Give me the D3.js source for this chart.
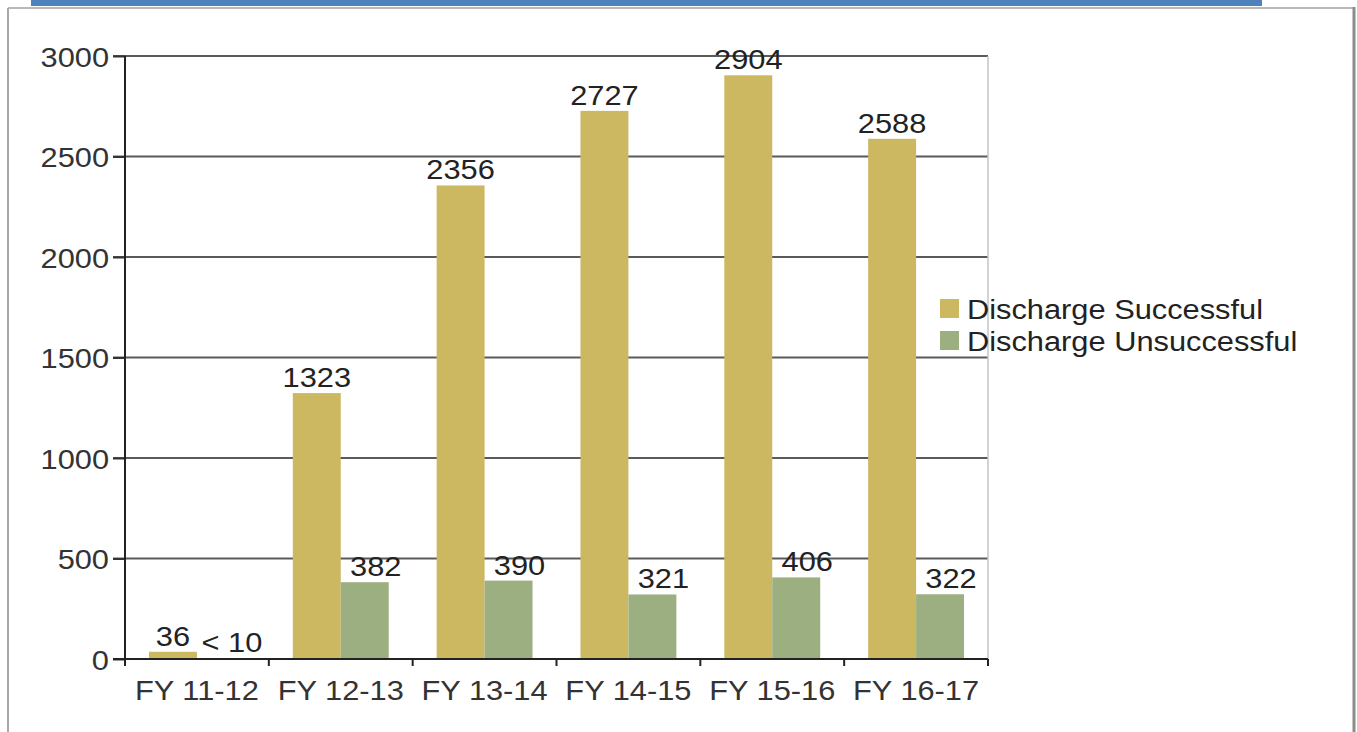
<!DOCTYPE html>
<html>
<head>
<meta charset="utf-8">
<script src="https://cdn.jsdelivr.net/npm/d3@7"></script>
<style>
  html, body { margin: 0; padding: 0; background: #fff; }
  svg { display: block; }
  text { font-family: "Liberation Sans", Arial, sans-serif; }
</style>
</head>
<body>
<svg id="chart" width="1357" height="732"></svg>
<script>
// ---- data ----
const categories = ["FY 11-12", "FY 12-13", "FY 13-14", "FY 14-15", "FY 15-16", "FY 16-17"];
const seriesNames = ["Discharge Successful", "Discharge Unsuccessful"];
const successful = [36, 1323, 2356, 2727, 2904, 2588];
const unsuccessful = [4, 382, 390, 321, 406, 322];
const unsuccessfulLabels = ["< 10", "382", "390", "321", "406", "322"];
const successfulLabels = ["36", "1323", "2356", "2727", "2904", "2588"];
const yTicks = [0, 500, 1000, 1500, 2000, 2500, 3000];

// ---- styles ----
const colors = ["#cdb862", "#9caf80"];
const fontSize = 28;
const sx = 1.1;

const svg = d3.select("#chart");

// frame
svg.append("rect").attr("x", 31).attr("y", 0).attr("width", 1231).attr("height", 6).attr("fill", "#4f81bd");
svg.append("line").attr("x1", 8).attr("x2", 1354).attr("y1", 8).attr("y2", 8).attr("stroke", "#b8b8b8").attr("stroke-width", 2);
svg.append("line").attr("x1", 8).attr("x2", 8).attr("y1", 8).attr("y2", 732).attr("stroke", "#a8a8a8").attr("stroke-width", 2);
svg.append("line").attr("x1", 1354).attr("x2", 1354).attr("y1", 7).attr("y2", 732).attr("stroke", "#8c8c8c").attr("stroke-width", 3);

const pLeft = 125, pRight = 988, pTop = 56, pBottom = 659;

const y = d3.scaleLinear().domain([0, 3000]).range([pBottom, pTop]);
const x0 = d3.scaleBand().domain(categories).range([pLeft, pRight]).padding(0);
const x1 = d3.scaleBand().domain(seriesNames).range([0, x0.bandwidth()]).paddingInner(0).paddingOuter(0.5);

function addText(g, x, yPos, str, anchor, fill) {
  g.append("text")
    .attr("transform", `translate(${x},${yPos}) scale(${sx},1)`)
    .attr("text-anchor", anchor)
    .attr("font-size", fontSize)
    .attr("fill", fill)
    .text(str);
}

// gridlines
const grid = svg.append("g");
grid.selectAll("line").data(yTicks).join("line")
  .attr("x1", pLeft - 12).attr("x2", pRight)
  .attr("y1", d => y(d)).attr("y2", d => y(d))
  .attr("stroke", d => d === 0 ? "none" : "#5a5a5a").attr("stroke-width", 2);

// plot right border
svg.append("line").attr("x1", pRight).attr("x2", pRight).attr("y1", pTop).attr("y2", pBottom)
  .attr("stroke", "#c4c4c4").attr("stroke-width", 1.5);

// bars
const seriesData = [successful, unsuccessful];
seriesData.forEach((vals, si) => {
  svg.append("g").selectAll("rect").data(vals).join("rect")
    .attr("x", (d, i) => x0(categories[i]) + x1(seriesNames[si]))
    .attr("width", x1.bandwidth())
    .attr("y", d => y(d))
    .attr("height", d => y(0) - y(d))
    .attr("fill", colors[si]);
});

// y axis
const yAxis = svg.append("g").attr("transform", `translate(${pLeft},0)`)
  .call(d3.axisLeft(y).tickValues(yTicks).tickSize(12).tickPadding(5).tickFormat(d3.format("d")));
yAxis.select(".domain").remove();
yAxis.selectAll(".tick line").attr("stroke", "#333").attr("stroke-width", 2);
yAxis.selectAll(".tick text").remove();
yAxis.selectAll(".tick").each(function(d) {
  addText(d3.select(this), -16, 10, String(d), "end", "#333");
});
svg.append("line").attr("x1", pLeft).attr("x2", pLeft).attr("y1", pTop).attr("y2", pBottom + 7)
  .attr("stroke", "#222").attr("stroke-width", 2);

// x axis
svg.append("line").attr("x1", pLeft - 12).attr("x2", pRight).attr("y1", pBottom).attr("y2", pBottom)
  .attr("stroke", "#222").attr("stroke-width", 2);
const boundaries = categories.map(c => x0(c)).concat([x0.range()[1]]);
svg.append("g").selectAll("line").data(boundaries).join("line")
  .attr("x1", d => d).attr("x2", d => d).attr("y1", pBottom).attr("y2", pBottom + 7)
  .attr("stroke", "#222").attr("stroke-width", 2);
const xl = svg.append("g");
categories.forEach(c => addText(xl, x0(c) + x0.bandwidth() / 2, pBottom + 41, c, "middle", "#333"));

// value labels
const vl = svg.append("g");
successful.forEach((v, i) => {
  const cx = x0(categories[i]) + x1(seriesNames[0]) + x1.bandwidth() / 2;
  addText(vl, cx, y(v) - 6, successfulLabels[i], "middle", "#222");
});
unsuccessful.forEach((v, i) => {
  const cx = x0(categories[i]) + x1(seriesNames[1]) + x1.bandwidth() / 2 + 11;
  addText(vl, cx, y(v) - 6, unsuccessfulLabels[i], "middle", "#222");
});

// legend
const legend = svg.append("g").attr("transform", "translate(940,299)");
seriesNames.forEach((s, i) => {
  const g = legend.append("g").attr("transform", `translate(0,${i * 32})`);
  g.append("rect").attr("width", 19).attr("height", 19).attr("fill", colors[i]);
  addText(g, 27, 20, s, "start", "#222");
});
</script>
</body>
</html>
